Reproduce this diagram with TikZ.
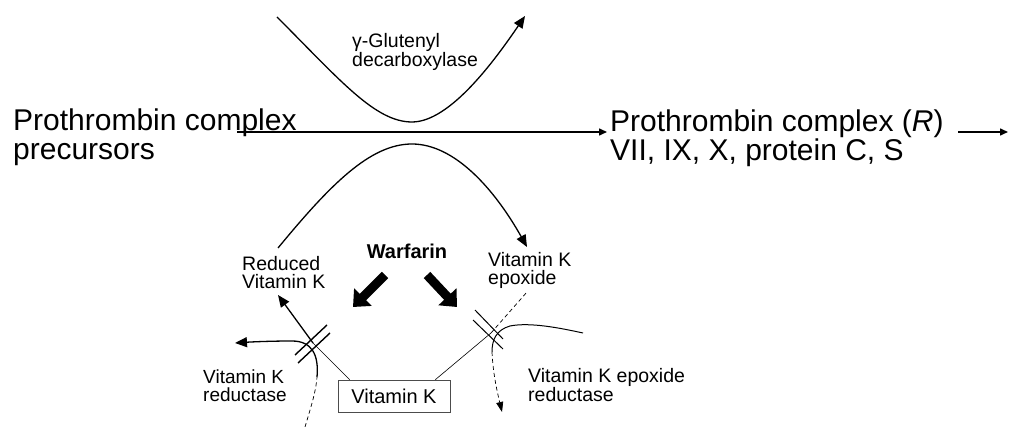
\documentclass[tikz,border=0pt]{standalone}
\usepackage{fontspec}
\setmainfont{Liberation Sans}
\usetikzlibrary{arrows.meta}
\begin{document}
\begin{tikzpicture}[x=1pt,y=-1pt,
  lbl/.style={inner sep=0pt, align=left, anchor=north west, font=\fontsize{19.5}{18}\selectfont},
  big/.style={inner sep=0pt, align=left, anchor=north west, font=\fontsize{30}{29}\selectfont},
  conn/.style={line width=1.3pt},
  thin/.style={line width=0.6pt},
  dsh/.style={line width=0.7pt, dash pattern=on 4pt off 3pt},
  tipA/.style={-{Triangle[length=12pt,width=10pt]}},
  tipS/.style={-{Triangle[length=8pt,width=7pt]}},
  tipD/.style={-{Triangle[length=10pt,width=7pt]}},
  fat/.style={line width=9pt, -{Triangle[length=14pt,width=24pt]}},
  hatch/.style={line width=1.4pt}]
\useasboundingbox[fill=white] (0,0) rectangle (1013,427);

% main texts
\node[big] (pre) at (13,109) {Prothrombin complex\\precursors};
\node[big] (post) at (610,110) {Prothrombin complex (\textit{R})\\VII, IX, X, protein C, S};

% labels
\node[lbl, font=\fontsize{19.5}{17.5}\selectfont] (gd) at (352,33) {γ-Glutenyl\\decarboxylase};
\node[inner sep=0pt, font=\bfseries\fontsize{20}{20}\selectfont] (warf) at (407,251) {Warfarin};
\node[lbl] (rvk) at (242,256) {Reduced\\Vitamin K};
\node[lbl] (vke) at (488,252) {Vitamin K\\epoxide};
\node[lbl, font=\fontsize{19}{18}\selectfont] (vkr) at (203,370) {Vitamin K\\reductase};
\node[lbl] (vker) at (528,368) {Vitamin K epoxide\\reductase};
\node[draw=black!70, thin, minimum width=112pt, minimum height=32pt, inner sep=0pt,
      font=\fontsize{20}{20}\selectfont] (vk) at (394,396) {Vitamin K};

% coordinates
\coordinate (mstart) at (237,132);
\coordinate (mend) at (607,132);
\coordinate (o1) at (958,132);
\coordinate (o2) at (1008,132);
\coordinate (u1) at (277,17);
\coordinate (u2) at (412,122);
\coordinate (u3) at (525,16);
\coordinate (l1) at (278,248);
\coordinate (l2) at (412,144);
\coordinate (l3) at (527,247);
\coordinate (xl) at (313,343);
\coordinate (xr) at (491,333);
\coordinate (rvktip) at (278,295);
\coordinate (vketip) at (527,292);
\coordinate (wl1) at (385,275);
\coordinate (wl2) at (353,307);
\coordinate (wr1) at (427,275);
\coordinate (wr2) at (457,307);

% main arrows
\draw[line width=1.5pt, tipS] (mstart) -- (mend);
\draw[line width=1.5pt, tipS] (o1) -- (o2);

% upper curve
\draw[conn, tipA] (u1) .. controls (340,80) and (375,122) .. (u2)
  .. controls (450,122) and (495,60) .. (u3);
% lower curve
\draw[conn, tipA] (l1) .. controls (330,185) and (370,144) .. (l2)
  .. controls (455,144) and (495,190) .. (l3);

% Warfarin arrows
\draw[fat] (wl1) -- (wl2);
\draw[fat] (wr1) -- (wr2);

% vitamin K -> reduced vitamin K
\draw[thin] ([xshift=12pt]vk.north west) -- (xl);
\draw[conn, tipA] (xl) -- (rvktip);
% vitamin K -> epoxide
\draw[thin] ([xshift=-15pt]vk.north east) -- (xr);
\draw[dsh] (xr) -- (vketip);

% hatches left
\draw[hatch] (295,355) -- (327,325);
\draw[hatch] (298,363) -- (330,333);
% hatches right
\draw[line width=1pt] (475,310) -- (503,339);
\draw[line width=1pt] (473,320) -- (503,349);

% vitamin K reductase curve
\coordinate (r0) at (305,427);
\coordinate (r1) at (317,377);
\coordinate (rtip) at (235,343);
\draw[dsh] (r0) .. controls (310,410) and (316,392) .. (r1);
\draw[conn, tipA] (r1) .. controls (319,355) and (312,341) .. (292,341)
  .. controls (270,341) and (250,342) .. (rtip);

% vitamin K epoxide reductase curve
\coordinate (e0) at (583,333);
\coordinate (e1) at (492,352);
\coordinate (etip) at (502,412);
\draw[line width=1pt] (e0) .. controls (560,328) and (530,322) .. (510,326)
  .. controls (496,330) and (492,340) .. (e1);
\draw[dsh, tipD] (e1) .. controls (493,375) and (498,395) .. (etip);
\end{tikzpicture}
\end{document}
